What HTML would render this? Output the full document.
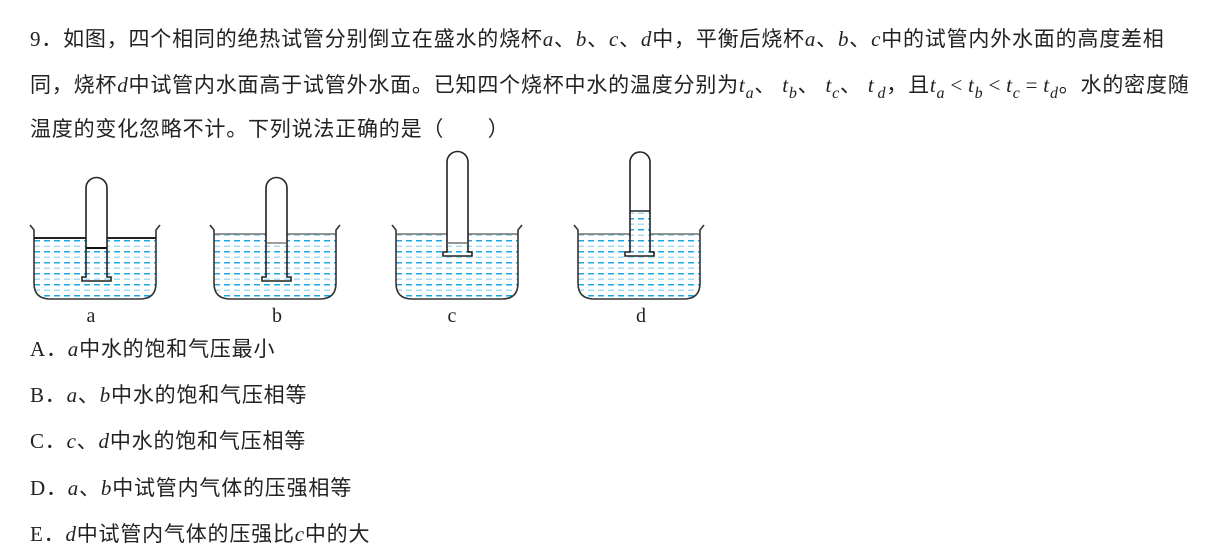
<!DOCTYPE html>
<html><head><meta charset="utf-8"><style>
html,body{margin:0;padding:0;background:#fff;}
body{width:1218px;height:559px;position:relative;overflow:hidden;font-family:"Liberation Serif","Noto Sans CJK SC",serif;color:#222;}
.t{position:absolute;left:30px;font-size:21px;white-space:nowrap;font-family:"Liberation Serif","Noto Sans CJK SC",sans-serif;line-height:24px;letter-spacing:0.8px;}
.c{font-family:"Noto Sans CJK SC",sans-serif;}
i{font-family:"Liberation Serif",serif;font-style:italic;}
sub{font-size:16px;vertical-align:-6px;line-height:0;font-style:italic;font-family:"Liberation Serif",serif;}
.op{font-family:"Liberation Serif",serif;margin:0 5px;}
.s{margin-left:6px;}
svg{position:absolute;left:0;top:0;}
</style></head><body>
<div class="t" style="top:26px"><span>9．</span><span class="c">如图，四个相同的绝热试管分别倒立在盛水的烧杯</span><i>a</i><span class="c">、</span><i>b</i><span class="c">、</span><i>c</i><span class="c">、</span><i>d</i><span class="c">中，平衡后烧杯</span><i>a</i><span class="c">、</span><i>b</i><span class="c">、</span><i>c</i><span class="c">中的试管内外水面的高度差相</span></div>
<div class="t c" style="top:72px">同，烧杯<i>d</i>中试管内水面高于试管外水面。已知四个烧杯中水的温度分别为<i>t</i><sub>a</sub>、<i class="s">t</i><sub>b</sub>、<i class="s">t</i><sub>c</sub>、<i class="s">t</i><sub class="s" style="margin-left:3px">d</sub>，且<i>t</i><sub>a</sub><span class="op">&lt;</span><i>t</i><sub>b</sub><span class="op">&lt;</span><i>t</i><sub>c</sub><span class="op">=</span><i>t</i><sub>d</sub>。水的密度随</div>
<div class="t c" style="top:116px">温度的变化忽略不计。下列说法正确的是（　　）</div>

<svg width="1218" height="559" viewBox="0 0 1218 559">
<defs>
<pattern id="w" x="0" y="241" width="10" height="11" patternUnits="userSpaceOnUse">
<rect x="0" y="0" width="6" height="1.5" fill="#1aa8e6"/>
<rect x="0" y="5.5" width="6" height="1.5" fill="#a8dcf3"/>
</pattern>
</defs>
<g transform="translate(34,230)">
<path d="M0,8 V53 Q0,69 16,69 H106 Q122,69 122,53 V8 Z" fill="url(#w)"/>
<rect x="52" y="18" width="21" height="34" fill="url(#w)"/>
<rect x="52" y="-50" width="21" height="68" fill="#fff"/>
<path d="M-4,-5 L0,0 V53 Q0,69 16,69 H106 Q122,69 122,53 V0 L126,-5" fill="none" stroke="#333" stroke-width="1.6"/>
<line x1="0" y1="8" x2="52" y2="8" stroke="#222" stroke-width="2"/>
<line x1="73" y1="8" x2="122" y2="8" stroke="#222" stroke-width="2"/>
<path d="M52,47 V-42 A10.5,10.5 0 0 1 73,-42 V47 L77,47 V51 H48 V47 Z" fill="none" stroke="#222" stroke-width="1.6"/>
<line x1="52" y1="18" x2="73" y2="18" stroke="#111" stroke-width="2"/>
</g>
<g transform="translate(214,230)">
<path d="M0,4 V53 Q0,69 16,69 H106 Q122,69 122,53 V4 Z" fill="url(#w)"/>
<path d="M-4,-5 L0,0 V53 Q0,69 16,69 H106 Q122,69 122,53 V0 L126,-5" fill="none" stroke="#333" stroke-width="1.6"/>
<line x1="0" y1="4" x2="122" y2="4" stroke="#555" stroke-width="1.2"/>
<rect x="52" y="-50" width="21" height="63" fill="#fff"/>
<path d="M52,47 V-42 A10.5,10.5 0 0 1 73,-42 V47 L77,47 V51 H48 V47 Z" fill="none" stroke="#222" stroke-width="1.6"/>
<line x1="52" y1="13" x2="73" y2="13" stroke="#666" stroke-width="1.2"/>
</g>
<g transform="translate(396,230)">
<path d="M0,4 V53 Q0,69 16,69 H106 Q122,69 122,53 V4 Z" fill="url(#w)"/>
<rect x="51" y="-78" width="21" height="91" fill="#fff"/>
<path d="M-4,-5 L0,0 V53 Q0,69 16,69 H106 Q122,69 122,53 V0 L126,-5" fill="none" stroke="#333" stroke-width="1.6"/>
<line x1="0" y1="4" x2="51" y2="4" stroke="#555" stroke-width="1.3"/>
<line x1="72" y1="4" x2="122" y2="4" stroke="#555" stroke-width="1.3"/>
<path d="M51,22 V-68 A10.5,10.5 0 0 1 72,-68 V22 L76,22 V26 H47 V22 Z" fill="none" stroke="#222" stroke-width="1.6"/>
<line x1="51" y1="13" x2="72" y2="13" stroke="#555" stroke-width="1.3"/>
</g>
<g transform="translate(578,230)">
<path d="M0,4 V53 Q0,69 16,69 H106 Q122,69 122,53 V4 Z" fill="url(#w)"/>
<rect x="52" y="-19" width="20" height="42" fill="url(#w)"/>
<rect x="52" y="-78" width="20" height="59" fill="#fff"/>
<path d="M-4,-5 L0,0 V53 Q0,69 16,69 H106 Q122,69 122,53 V0 L126,-5" fill="none" stroke="#333" stroke-width="1.6"/>
<line x1="0" y1="4" x2="52" y2="4" stroke="#555" stroke-width="1.3"/>
<line x1="72" y1="4" x2="122" y2="4" stroke="#555" stroke-width="1.3"/>
<path d="M52,22 V-68 A10,10 0 0 1 72,-68 V22 L76,22 V26 H47 V22 Z" fill="none" stroke="#222" stroke-width="1.6"/>
<line x1="52" y1="-19" x2="72" y2="-19" stroke="#222" stroke-width="1.6"/>
</g>
<g font-family="Liberation Serif, serif" font-size="20" fill="#222" text-anchor="middle">
<text x="91" y="322">a</text>
<text x="277" y="322">b</text>
<text x="452" y="322">c</text>
<text x="641" y="322">d</text>
</g>
</svg>

<div class="t" style="top:336px">A．<i>a</i><span class="c">中水的饱和气压最小</span></div>
<div class="t" style="top:382px">B．<i>a</i><span class="c">、</span><i>b</i><span class="c">中水的饱和气压相等</span></div>
<div class="t" style="top:428px">C．<i>c</i><span class="c">、</span><i>d</i><span class="c">中水的饱和气压相等</span></div>
<div class="t" style="top:475px">D．<i>a</i><span class="c">、</span><i>b</i><span class="c">中试管内气体的压强相等</span></div>
<div class="t" style="top:521px">E．<i>d</i><span class="c">中试管内气体的压强比</span><i>c</i><span class="c">中的大</span></div>
</body></html>
